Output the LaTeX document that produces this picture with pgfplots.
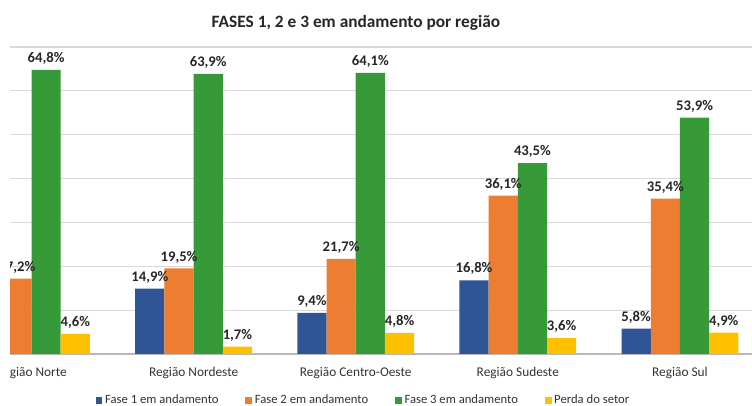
\documentclass[border=0pt]{standalone}
\usepackage{pgfplots}
\pgfplotsset{compat=1.18}
\usepackage{fontspec}
\setmainfont{Carlito}
\definecolor{cblue}{HTML}{2F5597}
\definecolor{corange}{HTML}{ED7D31}
\definecolor{cgreen}{HTML}{379A38}
\definecolor{cyellow}{HTML}{FFC000}
\definecolor{cgrid}{HTML}{D9D9D9}
\begin{document}
\begin{tikzpicture}
\useasboundingbox (0,0) rectangle (564pt,304.5pt);
\clip (7.5pt,0) rectangle (564pt,304.5pt);
\begin{axis}[
  at={(7.5pt,39pt)}, anchor=south west,
  scale only axis,
  width=563.25pt, height=230.25pt,
  xmin=-0.1327, xmax=4.5,
  ymin=0, ymax=70,
  ybar=0pt, bar width=21.9pt,
  axis line style={draw=none},
  major tick length=0pt,
  ytick={10,20,...,70}, yticklabels={},
  ymajorgrids, grid style={cgrid, line width=0.8pt},
  extra y ticks={0}, extra y tick labels={},
  extra y tick style={grid style={gray!55, line width=0.8pt}},
  xtick={0,1,2,3,4},
  xticklabels={Região Norte, Região Nordeste, Região Centro-Oeste, Região Sudeste, Região Sul},
  xticklabel style={font=\fontsize{10}{12}\selectfont, text=black!80, anchor=base, yshift=-17.25pt},
  nodes near coords={\pgfmathprintnumber[fixed,fixed zerofill,precision=1,use comma,assume math mode=true]{\pgfplotspointmeta}\%},
  every node near coord/.append style={font=\bfseries\fontsize{11}{13}\selectfont, text=black!85, anchor=south, yshift=0.5pt},
  title={FASES 1, 2 e 3 em andamento por região},
  title style={font=\bfseries\fontsize{13}{15}\selectfont, text=black!85, at={(0.4607,1)}, anchor=base, yshift=9pt},
  legend columns=4,
  legend style={draw=none, at={(0.471,-0.15)}, anchor=center, font=\fontsize{9.5}{11}\selectfont, text=black!80,
    /tikz/every even column/.append style={column sep=18pt}},
  legend image code/.code={\fill[#1] (0pt,-2.6pt) rectangle (5.2pt,2.6pt);},
]
\addplot[fill=cblue, draw=none] coordinates {(1,14.9) (2,9.4) (3,16.8) (4,5.8)};
\addplot[fill=corange, draw=none] coordinates {(0,17.2) (1,19.5) (2,21.7) (3,36.1) (4,35.4)};
\addplot[fill=cgreen, draw=none] coordinates {(0,64.8) (1,63.9) (2,64.1) (3,43.5) (4,53.9)};
\addplot[fill=cyellow, draw=none] coordinates {(0,4.6) (1,1.7) (2,4.8) (3,3.6) (4,4.9)};
\legend{Fase 1 em andamento, Fase 2 em andamento, Fase 3 em andamento, Perda do setor}
\end{axis}
\end{tikzpicture}
\end{document}
